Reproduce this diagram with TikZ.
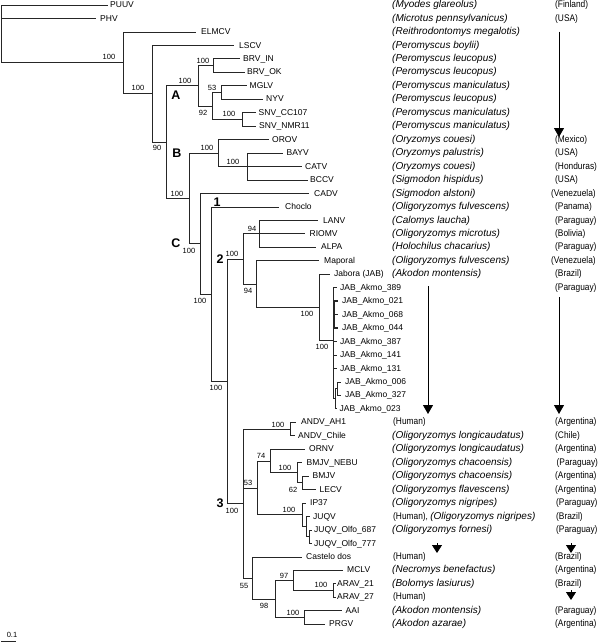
\documentclass[tikz,border=0pt]{standalone}
\usepackage{fontspec}
\setmainfont{Liberation Sans}
\newfontfamily\ctryfont[FakeStretch=0.87]{Liberation Sans}
\usetikzlibrary{arrows.meta}
\newcommand\rowy[1]{5+13.46*#1}
\begin{document}
\begin{tikzpicture}[x=1pt,y=-1pt,
  br/.style={line width=0.7pt, draw=black!85},
  brthick/.style={line width=1.4pt, draw=black!85},
  leaf/.style={anchor=mid west, inner sep=0pt, font=\fontsize{8.5}{10}\selectfont},
  sup/.style={inner sep=0pt, font=\fontsize{7.5}{9}\selectfont},
  clade/.style={inner sep=0pt, font=\bfseries\fontsize{12.5}{15}\selectfont},
  spec/.style={anchor=mid west, inner sep=0pt, font=\itshape\fontsize{10}{12}\selectfont},
  ctry/.style={anchor=mid west, inner sep=0pt, font=\ctryfont\fontsize{9.6}{11}\selectfont},
  bigarrow/.style={line width=0.8pt, -{Triangle[width=10pt,length=9pt]}},
  smallarrow/.style={line width=0.8pt, -{Triangle[width=10pt,length=8pt]}}
]
\useasboundingbox (0,0) rectangle (600,643);

% ---------- leaves: tip coordinates and labels ----------
\foreach \nm/\tx/\lx/\rr/\lab in {
PUUV/108/110/0/PUUV,
PHV/95.5/100/1/PHV,
ELMCV/196/201/2/ELMCV,
LSCV/234/239/3/LSCV,
BRVIN/240/243/4/BRV\_IN,
BRVOK/244.5/247/5/BRV\_OK,
MGLV/246.5/249.5/6/MGLV,
NYV/263/266/7/NYV,
SNVa/256/258.5/8/SNV\_CC107,
SNVb/256/259/9/SNV\_NMR11,
OROV/268.5/272/10/OROV,
BAYV/283/286.5/11/BAYV,
CATV/302/305/12/CATV,
BCCV/307.5/310/13/BCCV,
CADV/309/314/14/CADV,
Choclo/279/285/15/Choclo,
LANV/318/323/16/LANV,
RIOMV/305/309.5/17/RIOMV,
ALPA/316/321/18/ALPA,
Maporal/319/324/19/Maporal,
Jabora/330/334/20/{Jabora (JAB)},
J389/337/340/21/JAB\_Akmo\_389,
J021/338/342/22/JAB\_Akmo\_021,
J068/338/342/23/JAB\_Akmo\_068,
J044/338/342/24/JAB\_Akmo\_044,
J387/337/340/25/JAB\_Akmo\_387,
J141/337/340/26/JAB\_Akmo\_141,
J131/337/340/27/JAB\_Akmo\_131,
J006/341/345/28/JAB\_Akmo\_006,
J327/341/345/29/JAB\_Akmo\_327,
J023/337/339.5/30/JAB\_Akmo\_023,
AH1/296/301/31/ANDV\_AH1,
Chile/295/298/32/ANDV\_Chile,
ORNV/305/309/33/ORNV,
NEBU/302/306.5/34/BMJV\_NEBU,
BMJV/309/312.5/35/BMJV,
LECV/316/319.5/36/LECV,
IP37/306/310/37/IP37,
JUQV/310/313/38/JUQV,
O687/312/314/39/JUQV\_Olfo\_687,
O777/312/314/40/JUQV\_Olfo\_777,
Castelo/302/306/41/Castelo dos,
MCLV/343/347/42/MCLV,
ARAVa/335.5/337/43/ARAV\_21,
ARAVb/335.5/337/44/ARAV\_27,
AAI/342/345.5/45/AAI,
PRGV/325/329/46/PRGV}{
  \coordinate (t\nm) at (\tx,{\rowy{\rr}});
  \node[leaf] (l\nm) at (\lx,{\rowy{\rr}}) {\lab};
}

% ---------- internal nodes ----------
\coordinate (root) at (1,{\rowy{0}});
\coordinate (N1) at (123,{\rowy{4.297}});
\coordinate (N2) at (152,{\rowy{6.59}});
\coordinate (N3) at (166,{\rowy{10.185}});
\coordinate (A) at (198,{\rowy{6}});
\coordinate (BRV) at (213.5,{\rowy{4.5}});
\coordinate (A2) at (212,{\rowy{7.5}});
\coordinate (MN) at (221,{\rowy{6.5}});
\coordinate (SNV) at (242,{\rowy{8.5}});
\coordinate (Bp) at (189,{\rowy{14.37}});
\coordinate (B) at (218,{\rowy{11}});
\coordinate (n247) at (247,{\rowy{12}});
\coordinate (C) at (200,{\rowy{17.74}});
\coordinate (n1) at (211,{\rowy{21.47}});
\coordinate (n227) at (227,{\rowy{27.95}});
\coordinate (c2) at (243,{\rowy{18.8625}});
\coordinate (n259) at (259,{\rowy{17}});
\coordinate (n256) at (256,{\rowy{20.725}});
\coordinate (n319) at (319,{\rowy{22.45}});
\coordinate (jab) at (333,{\rowy{24.9}});
\coordinate (jc1) at (334.5,{\rowy{23}});
\coordinate (jc2) at (335,{\rowy{29.25}});
\coordinate (jc3) at (337.5,{\rowy{28.5}});
\coordinate (c3) at (243,{\rowy{37.03}});
\coordinate (andv) at (290,{\rowy{31.5}});
\coordinate (n257) at (257,{\rowy{35.875}});
\coordinate (n270) at (270,{\rowy{33.875}});
\coordinate (n297) at (297,{\rowy{34.75}});
\coordinate (n302a) at (302,{\rowy{35.5}});
\coordinate (n302b) at (302,{\rowy{37.875}});
\coordinate (n307) at (306,{\rowy{38.75}});
\coordinate (n309) at (309,{\rowy{39.5}});
\coordinate (n252) at (252,{\rowy{42.5625}});
\coordinate (n275) at (275,{\rowy{44.125}});
\coordinate (n293) at (293,{\rowy{42.75}});
\coordinate (arav) at (333,{\rowy{43.5}});
\coordinate (n304) at (304,{\rowy{45.5}});

% ---------- branches ----------
\foreach \p/\c in {
root/tPUUV, root/tPHV, root/N1,
N1/tELMCV, N1/N2,
N2/tLSCV, N2/N3,
N3/A, N3/Bp,
A/BRV, A/A2,
BRV/tBRVIN, BRV/tBRVOK,
A2/MN, A2/SNV,
MN/tMGLV, MN/tNYV,
SNV/tSNVa, SNV/tSNVb,
Bp/B, Bp/C,
B/tOROV, B/n247,
n247/tBAYV, n247/tCATV, n247/tBCCV,
C/tCADV, C/n1,
n1/tChoclo, n1/n227,
n227/c2, n227/c3,
c2/n259, c2/n256,
n259/tLANV, n259/tRIOMV, n259/tALPA,
n256/tMaporal, n256/n319,
n319/tJabora, n319/jab,
jab/tJ389, jab/jc1, jab/tJ387, jab/tJ141, jab/tJ131, jab/jc2,
jc2/jc3, jc2/tJ023,
jc3/tJ006, jc3/tJ327,
c3/andv, c3/n257, c3/n252,
andv/tAH1, andv/tChile,
n257/n270, n257/n302b,
n270/tORNV, n270/n297,
n297/tNEBU, n297/n302a,
n302a/tBMJV, n302a/tLECV,
n302b/tIP37, n302b/n307,
n307/tJUQV, n307/n309,
n309/tO687, n309/tO777,
n252/tCastelo, n252/n275,
n275/n293, n275/n304,
n293/tMCLV, n293/arav,
arav/tARAVa, arav/tARAVb,
n304/tAAI, n304/tPRGV}{
  \draw[br] (\p) |- (\c);
}
\foreach \c in {tJ021, tJ068, tJ044}{
  \draw[brthick] (jc1) |- (\c);
}

% ---------- support values ----------
\foreach \x/\y/\t [count=\i] in {
109/57.3/100, 138/88.2/100, 157/148/90, 185/81/100, 203/61/100,
203/113/92, 212/87.5/53, 229/114/100, 207/148/100, 233/162/100,
177/194/100, 189/251/100, 200/301/100, 252/229/94, 232/253.5/100,
248/291/94, 307/314/100, 322/347/100, 216/388/100, 232/510.5/100,
278/425/100, 261/456/74, 248/483/53, 285/468/100, 293/490/62,
289/510/100, 244/586/55, 264/606/98, 284/576/97, 321/585/100,
293/612.5/100}{
  \node[sup] (s\i) at (\x,\y) {\t};
}

% ---------- clade labels ----------
\node[clade] (cA) at (176,95) {A};
\node[clade] (cB) at (177,153.5) {B};
\node[clade] (cC) at (176,243) {C};
\node[clade] (c1l) at (217,202) {1};
\node[clade] (c2l) at (220,259) {2};
\node[clade] (c3l) at (220,503) {3};

% ---------- host species ----------
\foreach \rr/\t in {
0/Myodes glareolus, 1/Microtus pennsylvanicus, 2/Reithrodontomys megalotis,
3/Peromyscus boylii, 4/Peromyscus leucopus, 5/Peromyscus leucopus,
6/Peromyscus maniculatus, 7/Peromyscus leucopus, 8/Peromyscus maniculatus,
9/Peromyscus maniculatus, 10/Oryzomys couesi, 11/Oryzomys palustris,
12/Oryzomys couesi, 13/Sigmodon hispidus, 14/Sigmodon alstoni,
15/Oligoryzomys fulvescens, 16/Calomys laucha, 17/Oligoryzomys microtus,
18/Holochilus chacarius, 19/Oligoryzomys fulvescens, 20/Akodon montensis,
32/Oligoryzomys longicaudatus, 33/Oligoryzomys longicaudatus,
34/Oligoryzomys chacoensis, 35/Oligoryzomys chacoensis,
36/Oligoryzomys flavescens, 37/Oligoryzomys nigripes,
39/Oligoryzomys fornesi, 42/Necromys benefactus, 43/Bolomys lasiurus,
45/Akodon montensis, 46/Akodon azarae}{
  \node[spec] (sp\rr) at (392,{\rowy{\rr}}) {(\t)};
}
\foreach \rr in {31,41,44}{
  \node[ctry] (sp\rr) at (393,{\rowy{\rr}}) {(Human)};
}
\node[ctry] (sp38) at (393,{\rowy{38}}) {(Human), {\normalfont\itshape\fontsize{10}{12}\selectfont (Oligoryzomys nigripes)}};

% ---------- countries ----------
\foreach \rr/\x/\t in {
0/555/Finland, 1/555/USA, 10/555/Mexico, 11/555/USA, 12/555/Honduras,
13/555/USA, 14/551/Venezuela, 15/555/Panama, 16/555/Paraguay,
17/555/Bolivia, 18/555/Paraguay, 19/551/Venezuela, 20/555/Brazil,
21/555/Paraguay, 31/555/Argentina, 32/555/Chile, 33/555/Argentina,
34/556.5/Paraguay, 35/555/Argentina, 36/555/Argentina, 37/556/Paraguay,
38/556/Brazil, 39/556/Paraguay, 41/555/Brazil, 42/555/Argentina,
43/555/Brazil, 45/555/Paraguay, 46/555/Argentina}{
  \node[ctry] (ct\rr) at (\x,{\rowy{\rr}}) {(\t)};
}

% ---------- arrows ----------
\coordinate (ca1s) at (559,31.7);  \coordinate (ca1e) at (559,137);
\coordinate (sa1s) at (428,286);   \coordinate (sa1e) at (428,414);
\coordinate (ca2s) at (559,297);   \coordinate (ca2e) at (559,414);
\coordinate (sa2s) at (437,543);   \coordinate (sa2e) at (437,553);
\coordinate (ca3s) at (571,543);   \coordinate (ca3e) at (571,553);
\coordinate (ca4s) at (571,590);   \coordinate (ca4e) at (571,600);
\draw[bigarrow] (ca1s) -- (ca1e);
\draw[bigarrow] (sa1s) -- (sa1e);
\draw[bigarrow] (ca2s) -- (ca2e);
\draw[smallarrow] (sa2s) -- (sa2e);
\draw[smallarrow] (ca3s) -- (ca3e);
\draw[smallarrow] (ca4s) -- (ca4e);

% ---------- scale bar ----------
\coordinate (sb1) at (1,641);
\coordinate (sb2) at (16,641);
\draw[br] (sb1) -- (sb2);
\node[sup] (sbl) at (12,635) {0.1};
\end{tikzpicture}
\end{document}
